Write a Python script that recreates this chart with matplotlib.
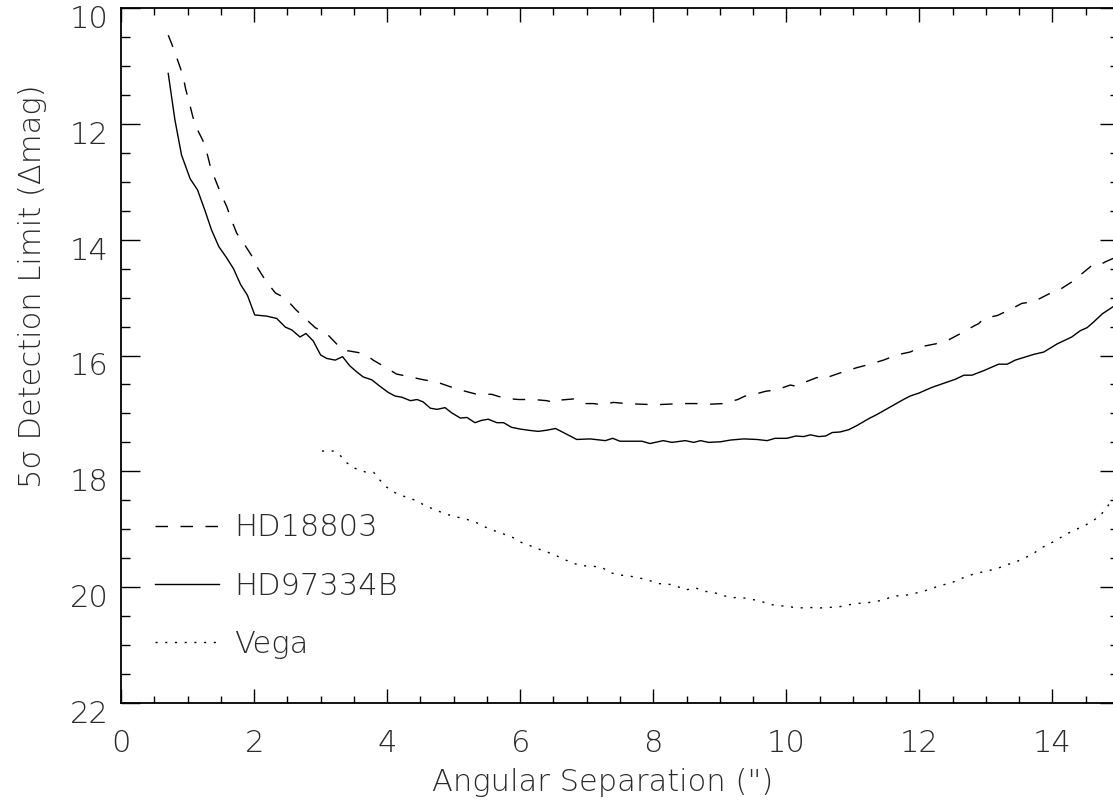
import matplotlib
matplotlib.use("Agg")
import matplotlib.pyplot as plt
from matplotlib.ticker import MultipleLocator
from matplotlib.transforms import ScaledTranslation

# HD18803 (dashed)
hd18803_sep = [0.71, 0.79, 0.86, 0.93, 0.97, 1.03, 1.08, 1.14, 1.24, 1.30, 1.35, 1.44,
               1.51, 1.59, 1.66, 1.74, 1.86, 1.96, 2.06, 2.17, 2.32, 2.47, 2.62, 2.74,
               2.92, 3.09, 3.24, 3.34, 3.42, 3.62, 3.69, 3.79, 3.97, 4.14, 4.35, 4.55,
               4.75, 4.95, 5.15, 5.35, 5.57, 5.77, 5.98, 6.20, 6.40, 6.53, 6.60, 6.80,
               6.88, 6.98, 7.10, 7.23, 7.40, 7.60, 7.80, 8.03, 8.23, 8.45, 8.63, 8.86,
               9.06, 9.27, 9.38, 9.46, 9.68, 9.86, 10.06, 10.14, 10.26, 10.46, 10.56,
               10.66, 10.86, 11.06, 11.26, 11.46, 11.66, 11.86, 12.06, 12.24, 12.44,
               12.62, 12.82, 12.89, 12.97, 13.17, 13.34, 13.54, 13.72, 13.94, 14.10,
               14.29, 14.44, 14.62, 14.72, 14.80, 14.92]
hd18803_lim = [10.47, 10.70, 10.93, 11.16, 11.39, 11.65, 11.88, 12.08, 12.31, 12.54, 12.77, 13.03,
               13.23, 13.43, 13.66, 13.89, 14.09, 14.27, 14.50, 14.70, 14.92, 15.01, 15.20, 15.33,
               15.52, 15.62, 15.80, 15.91, 15.92, 15.96, 15.99, 16.08, 16.20, 16.32, 16.37, 16.42,
               16.46, 16.54, 16.61, 16.67, 16.67, 16.74, 16.76, 16.76, 16.78, 16.82, 16.77, 16.75,
               16.77, 16.83, 16.83, 16.85, 16.81, 16.83, 16.84, 16.85, 16.84, 16.83, 16.83, 16.84,
               16.83, 16.76, 16.70, 16.69, 16.62, 16.59, 16.51, 16.53, 16.47, 16.38, 16.41,
               16.36, 16.28, 16.21, 16.15, 16.08, 15.99, 15.94, 15.84, 15.80, 15.73,
               15.62, 15.49, 15.45, 15.36, 15.31, 15.22, 15.10, 15.07, 14.94, 14.87,
               14.73, 14.59, 14.42, 14.43, 14.38, 14.32]

# HD97334B (solid)
hd97334b_sep = [0.71, 0.81, 0.91, 1.04, 1.15, 1.26, 1.36, 1.47, 1.58, 1.69, 1.80, 1.90,
                2.01, 2.19, 2.34, 2.47, 2.57, 2.69, 2.78, 2.89, 3.00, 3.09, 3.22, 3.33,
                3.44, 3.54, 3.64, 3.77, 3.89, 4.02, 4.12, 4.22, 4.35, 4.45, 4.54, 4.65,
                4.75, 4.87, 4.97, 5.10, 5.20, 5.32, 5.42, 5.52, 5.65, 5.75, 5.87, 6.00,
                6.12, 6.27, 6.40, 6.53, 6.70, 6.85, 7.05, 7.28, 7.39, 7.50, 7.70, 7.83,
                7.95, 8.15, 8.28, 8.48, 8.61, 8.71, 8.83, 9.01, 9.16, 9.36, 9.56, 9.71,
                9.83, 10.01, 10.14, 10.26, 10.36, 10.49, 10.59, 10.69, 10.81, 10.94,
                11.06, 11.24, 11.36, 11.56, 11.76, 11.86, 11.99, 12.19, 12.34, 12.54,
                12.67, 12.79, 12.97, 13.19, 13.32, 13.44, 13.72, 13.87, 14.07, 14.29,
                14.42, 14.52, 14.62, 14.75, 14.92]
hd97334b_lim = [11.13, 11.93, 12.54, 12.95, 13.14, 13.49, 13.83, 14.12, 14.30, 14.50, 14.78, 14.96,
                15.30, 15.32, 15.36, 15.51, 15.56, 15.68, 15.62, 15.75, 15.99, 16.05, 16.08, 16.02,
                16.18, 16.28, 16.37, 16.42, 16.53, 16.64, 16.70, 16.72, 16.78, 16.76, 16.80, 16.91,
                16.93, 16.90, 16.99, 17.08, 17.07, 17.16, 17.12, 17.10, 17.16, 17.16, 17.24, 17.27,
                17.29, 17.31, 17.29, 17.26, 17.36, 17.45, 17.44, 17.47, 17.43, 17.48, 17.48, 17.48,
                17.52, 17.47, 17.50, 17.47, 17.50, 17.47, 17.50, 17.49, 17.46, 17.44, 17.45, 17.47,
                17.43, 17.43, 17.39, 17.40, 17.37, 17.40, 17.39, 17.33, 17.32, 17.28,
                17.21, 17.09, 17.02, 16.89, 16.76, 16.70, 16.65, 16.55, 16.49, 16.41,
                16.34, 16.34, 16.26, 16.15, 16.15, 16.08, 15.98, 15.94, 15.80, 15.68,
                15.57, 15.52, 15.42, 15.28, 15.15]

# Vega (dotted)
vega_sep = [3.02, 3.19, 3.29, 3.39, 3.52, 3.67, 3.80, 3.89, 3.99, 4.12, 4.25, 4.40,
            4.52, 4.65, 4.80, 4.92, 5.05, 5.20, 5.35, 5.47, 5.60, 5.72, 5.87, 6.00,
            6.12, 6.27, 6.40, 6.53, 6.68, 6.80, 6.95, 7.10, 7.23, 7.35, 7.50, 7.65,
            7.79, 7.93, 8.08, 8.20, 8.35, 8.48, 8.63, 8.76, 8.91, 9.03, 9.18, 9.33,
            9.48, 9.61, 9.76, 9.91, 10.06, 10.18, 10.33, 10.49, 10.64, 10.79, 10.91,
            11.06, 11.21, 11.34, 11.49, 11.61, 11.76, 11.91, 12.04, 12.19, 12.32,
            12.47, 12.59, 12.74, 12.86, 13.02, 13.17, 13.29, 13.44, 13.57, 13.69,
            13.82, 13.94, 14.07, 14.20, 14.32, 14.46, 14.59, 14.72, 14.82, 14.92]
vega_lim = [17.65, 17.65, 17.72, 17.85, 17.95, 18.01, 18.02, 18.15, 18.27, 18.37, 18.43, 18.49,
            18.56, 18.63, 18.70, 18.75, 18.79, 18.83, 18.89, 18.96, 19.02, 19.07, 19.13, 19.22,
            19.27, 19.34, 19.39, 19.45, 19.53, 19.59, 19.63, 19.64, 19.66, 19.75, 19.79, 19.81,
            19.84, 19.88, 19.94, 19.94, 19.98, 20.05, 20.01, 20.07, 20.09, 20.14, 20.18, 20.18,
            20.21, 20.24, 20.30, 20.32, 20.34, 20.36, 20.35, 20.36, 20.35, 20.34, 20.31,
            20.28, 20.27, 20.25, 20.21, 20.15, 20.15, 20.11, 20.08, 20.02, 19.97,
            19.93, 19.87, 19.80, 19.76, 19.72, 19.68, 19.62, 19.57, 19.50, 19.44,
            19.33, 19.26, 19.18, 19.09, 19.02, 18.95, 18.87, 18.76, 18.62, 18.45]

TXT = "#2a2a2a"
FS = 22

plt.rcParams['font.family'] = ['DejaVu Sans']

fig = plt.figure(figsize=(11.13, 8.08), dpi=100)
ax = fig.add_axes([121 / 1113, 105 / 808, 998 / 1113, 695 / 808])

ax.plot(hd18803_sep, hd18803_lim, color="black", lw=1.0, dashes=(9, 9), label="HD18803")
ax.plot(hd97334b_sep, hd97334b_lim, color="black", lw=1.0, label="HD97334B")
ax.plot(vega_sep, vega_lim, color="black", lw=1.0, dashes=(1.5, 5.5), label="Vega")

ax.set_xlim(0, 15)
ax.set_ylim(22, 10)
ax.xaxis.set_major_locator(MultipleLocator(2))
ax.xaxis.set_minor_locator(MultipleLocator(0.5))
ax.yaxis.set_major_locator(MultipleLocator(2))
ax.yaxis.set_minor_locator(MultipleLocator(0.5))

ax.tick_params(axis="both", which="both", direction="in", top=True, right=True,
               width=1.0, color="black")
ax.tick_params(axis="x", which="major", length=10, pad=19)
ax.tick_params(axis="x", which="minor", length=5)
ax.tick_params(axis="y", which="major", length=13.7, pad=9)
ax.tick_params(axis="y", which="minor", length=6.8)
# IDL puts the y labels a little below the tick
shift = ScaledTranslation(0, -6 / 72, fig.dpi_scale_trans)
for lab in ax.get_yticklabels():
    lab.set_transform(lab.get_transform() + shift)
for lab in ax.get_xticklabels() + ax.get_yticklabels():
    lab.set_fontsize(FS)
    lab.set_fontweight("light")
    lab.set_color(TXT)
for sp in ax.spines.values():
    sp.set_linewidth(1.3)

ax.set_xlabel("Angular Separation (\")", fontsize=FS, fontweight="light", color=TXT)
ax.set_ylabel("5σ Detection Limit (Δmag)", fontsize=FS, fontweight="light", color=TXT)
ax.xaxis.set_label_coords(0.483, -0.114)
ax.xaxis.label.set_va("center")
ax.yaxis.set_label_coords(-0.089, 0.60)
ax.yaxis.label.set_va("center")

leg = ax.legend(loc="upper left", bbox_to_anchor=(0.034, 0.273), frameon=False,
                borderpad=0, borderaxespad=0, handlelength=2.1, handletextpad=0.5,
                labelspacing=0.96, prop={"size": FS, "weight": "light"})
for t in leg.get_texts():
    t.set_color(TXT)

fig.savefig("out.png", dpi=100)
